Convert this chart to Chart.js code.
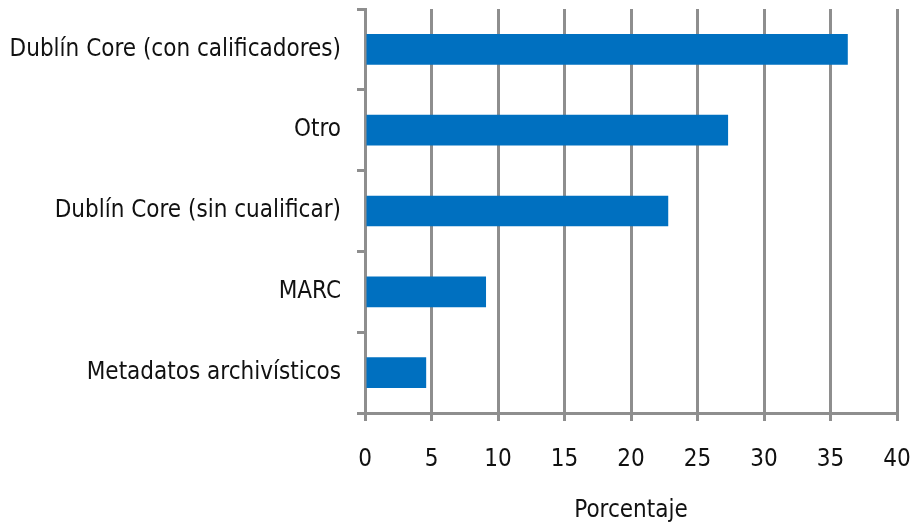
<!DOCTYPE html>
<html>
<head>
<meta charset="utf-8">
<script src="https://cdn.jsdelivr.net/npm/chart.js@4.4.0/dist/chart.umd.min.js"></script>
<style>
  html, body { margin: 0; padding: 0; background: #fff; }
  #wrap { width: 915px; height: 524px; }
</style>
</head>
<body>
<div id="wrap"><canvas id="c" width="915" height="524"></canvas></div>
<script>
// categories, top to bottom
const categories = [
  'Dublín Core (con calificadores)',
  'Otro',
  'Dublín Core (sin cualificar)',
  'MARC',
  'Metadatos archivísticos'
];
// percentage values
const percentages = [36.3, 27.3, 22.8, 9.1, 4.6];
const xTicks = [0, 5, 10, 15, 20, 25, 30, 35, 40];
const axisTitle = 'Porcentaje';

const gray = '#8e8e8e';
const mkFont = () => ({ family: '"DejaVu Sans Condensed", "DejaVu Sans"', size: 24 });

new Chart(document.getElementById('c').getContext('2d'), {
  type: 'bar',
  data: {
    labels: categories,
    datasets: [{
      data: percentages,
      backgroundColor: '#0070c0',
      borderWidth: 0,
      barPercentage: 0.38,
      categoryPercentage: 1
    }]
  },
  options: {
    indexAxis: 'y',
    responsive: false,
    animation: false,
    layout: { padding: { top: 9, right: 18, left: 0, bottom: 0 } },
    plugins: { legend: { display: false }, tooltip: { enabled: false } },
    scales: {
      x: {
        min: 0,
        max: 40,
        afterBuildTicks: axis => { axis.ticks = xTicks.map(v => ({ value: v })); },
        afterFit: axis => { axis.height = 111; axis.paddingLeft = 0; axis.paddingRight = 0; },
        grid: { color: gray, lineWidth: 3, tickLength: 8, drawTicks: true },
        border: { color: gray, width: 3 },
        ticks: { color: '#111', font: mkFont(), padding: 24, maxRotation: 0 },
        title: { display: true, text: axisTitle, color: '#111', font: mkFont(), padding: { top: 14, bottom: -1 } }
      },
      y: {
        afterFit: axis => { axis.width = 365; axis.paddingTop = 0; axis.paddingBottom = 0; },
        grid: { offset: true, drawOnChartArea: false, color: gray, lineWidth: 3, tickLength: 8 },
        border: { color: gray, width: 3 },
        ticks: { color: '#111', font: mkFont(), padding: 16 }
      }
    }
  }
});
</script>
</body>
</html>
